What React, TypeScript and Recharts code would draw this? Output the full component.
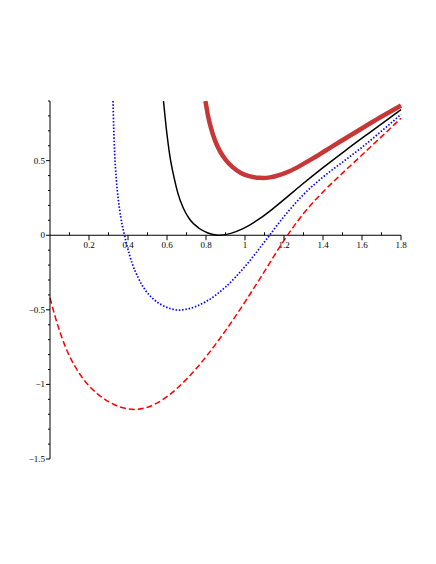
import { LineChart, Line, XAxis, YAxis, ReferenceLine } from 'recharts';

// curve samples
const blackX = [0.582, 0.597, 0.615, 0.636, 0.656, 0.684, 0.718, 0.764, 0.81, 0.862, 0.923, 0.99, 1.067, 1.144, 1.221, 1.297, 1.4, 1.513, 1.641, 1.8];
const blackY = [0.9, 0.709, 0.529, 0.388, 0.281, 0.181, 0.104, 0.047, 0.015, 0.0, 0.011, 0.044, 0.104, 0.179, 0.262, 0.345, 0.453, 0.566, 0.69, 0.842];

const blueX = [0.323, 0.327, 0.332, 0.34, 0.35, 0.364, 0.379, 0.397, 0.421, 0.451, 0.487, 0.528, 0.574, 0.621, 0.66, 0.7, 0.8, 0.9, 1.0, 1.1, 1.2, 1.3, 1.4, 1.5, 1.6, 1.7, 1.8];
const blueY = [0.9, 0.71, 0.542, 0.375, 0.241, 0.114, 0.017, -0.08, -0.187, -0.281, -0.365, -0.425, -0.468, -0.493, -0.502, -0.496, -0.4445, -0.347, -0.2095, -0.0445, 0.1255, 0.273, 0.39, 0.49, 0.59, 0.698, 0.81];

const redX = [0, 0.025, 0.05, 0.075, 0.1, 0.15, 0.2, 0.25, 0.3, 0.35, 0.4, 0.43, 0.5, 0.6, 0.7, 0.8, 0.9, 1.0, 1.1, 1.2, 1.3, 1.4, 1.5, 1.6, 1.7, 1.8];
const redY = [-0.42, -0.54, -0.645, -0.735, -0.81, -0.925, -1.01, -1.07, -1.115, -1.147, -1.164, -1.168, -1.153, -1.082, -0.9645, -0.8145, -0.6395, -0.447, -0.242, -0.0345, 0.1455, 0.2905, 0.4165, 0.5385, 0.661, 0.7845];

const thickX = [0.797, 0.81, 0.826, 0.846, 0.872, 0.903, 0.938, 0.979, 1.026, 1.077, 1.128, 1.179, 1.231, 1.282, 1.344, 1.41, 1.497, 1.59, 1.692, 1.8];
const thickY = [0.9, 0.803, 0.716, 0.636, 0.562, 0.502, 0.455, 0.418, 0.395, 0.385, 0.388, 0.405, 0.431, 0.465, 0.512, 0.565, 0.635, 0.709, 0.789, 0.87];

const xTicks = [0.1, 0.2, 0.3, 0.4, 0.5, 0.6, 0.7, 0.8, 0.9, 1.0, 1.1, 1.2, 1.3, 1.4, 1.5, 1.6, 1.7, 1.8];
const xLabels = ['0.2', '0.4', '0.6', '0.8', '1', '1.2', '1.4', '1.6', '1.8'];
const yTicks = [-1.5, -1.4, -1.3, -1.2, -1.1, -1.0, -0.9, -0.8, -0.7, -0.6, -0.5, -0.4, -0.3, -0.2, -0.1, 0, 0.1, 0.2, 0.3, 0.4, 0.5, 0.6, 0.7, 0.8, 0.9];
const yLabels = ['−1.5', '−1', '−0.5', '0', '0.5'];

const Y_MIN = -1.5;
const Y_MAX = 0.9;

const W = 436;
const H = 564;
const M = { top: 101, right: 35, bottom: 75, left: 0 };
const X_AXIS_H = 30;
const PLOT_H = H - M.top - M.bottom - X_AXIS_H;

const zip = (xs: number[], ys: number[]) => xs.map((x, i) => ({ x, y: ys[i] }));

const blackData = zip(blackX, blackY);
const blueData = zip(blueX, blueY);
const redData = zip(redX, redY);
const thickData = zip(thickX, thickY);

// smooth cubic Hermite through the points (x increasing), tangents from neighbouring secants
function smoothCurve(context: any) {
  let pts: number[][] = [];
  return {
    areaStart() {},
    areaEnd() {},
    lineStart() {
      pts = [];
    },
    point(x: number, y: number) {
      pts.push([+x, +y]);
    },
    lineEnd() {
      const n = pts.length;
      if (!n) return;
      context.moveTo(pts[0][0], pts[0][1]);
      if (n === 1) return;
      const h: number[] = [];
      const d: number[] = [];
      for (let i = 0; i < n - 1; i++) {
        h.push(pts[i + 1][0] - pts[i][0]);
        d.push((pts[i + 1][1] - pts[i][1]) / h[i]);
      }
      const m: number[] = [];
      for (let i = 0; i < n; i++) {
        if (i === 0) m.push(d[0]);
        else if (i === n - 1) m.push(d[n - 2]);
        else m.push((d[i] * h[i - 1] + d[i - 1] * h[i]) / (h[i - 1] + h[i]));
      }
      for (let i = 0; i < n - 1; i++) {
        const [x0, y0] = pts[i];
        const [x1, y1] = pts[i + 1];
        const t = h[i] / 3;
        context.bezierCurveTo(x0 + t, y0 + m[i] * t, x1 - t, y1 - m[i + 1] * t, x1, y1);
      }
    },
  };
}

const font = { fontFamily: '"Liberation Serif", serif', fontSize: 9, fill: '#000' };

function fmt(v: number) {
  const s = String(Math.round(v * 10) / 10);
  return s.startsWith('-') ? '−' + s.slice(1) : s;
}

function XTick(props: any) {
  const { x, y, payload } = props;
  // axis drawn through y = 0 instead of at the bottom
  const zeroY = y - (PLOT_H * (0 - Y_MIN)) / (Y_MAX - Y_MIN);
  const label = fmt(payload.value);
  const major = xLabels.includes(label);
  return (
    <g>
      {major ? (
        <line x1={x} x2={x} y1={zeroY} y2={zeroY + 5} stroke="#000" />
      ) : (
        <line x1={x} x2={x} y1={zeroY - 3} y2={zeroY} stroke="#000" />
      )}
      {major && (
        <text x={x} y={zeroY + 13} textAnchor="middle" {...font}>
          {label}
        </text>
      )}
    </g>
  );
}

function YTick(props: any) {
  const { x, y, payload } = props;
  const label = fmt(payload.value);
  const major = yLabels.includes(label);
  return (
    <g>
      <line x1={x - (major ? 4 : 2)} x2={x} y1={y} y2={y} stroke="#000" />
      {major && (
        <text x={x - 5} y={y + 3} textAnchor="end" {...font}>
          {label}
        </text>
      )}
    </g>
  );
}

export default function App() {
  return (
    <div style={{ width: W, height: H, background: '#fff' }}>
      <style>{'body{margin:0}'}</style>
      <LineChart width={W} height={H} margin={M}>
        <XAxis
          type="number"
          dataKey="x"
          domain={[0, 1.8]}
          ticks={xTicks}
          interval={0}
          height={X_AXIS_H}
          axisLine={false}
          tickLine={false}
          tickSize={0}
          tickMargin={0}
          tick={<XTick />}
        />
        <YAxis
          type="number"
          dataKey="y"
          domain={[Y_MIN, Y_MAX]}
          ticks={yTicks}
          interval={0}
          width={50}
          allowDataOverflow
          axisLine={{ stroke: '#000' }}
          tickLine={false}
          tickSize={0}
          tickMargin={0}
          tick={<YTick />}
        />
        <ReferenceLine y={0} stroke="#000" strokeWidth={1} />
        <Line data={thickData} dataKey="y" type={smoothCurve as any} stroke="#c83737" strokeWidth={4.5} dot={false} isAnimationActive={false} />
        <Line data={blackData} dataKey="y" type={smoothCurve as any} stroke="#000" strokeWidth={1.5} dot={false} isAnimationActive={false} />
        <Line data={blueData} dataKey="y" type={smoothCurve as any} stroke="#0000ff" strokeWidth={1.7} strokeDasharray="1.5 1.8" dot={false} isAnimationActive={false} />
        <Line data={redData} dataKey="y" type={smoothCurve as any} stroke="#ff0000" strokeWidth={1.5} strokeDasharray="6 3" dot={false} isAnimationActive={false} />
      </LineChart>
    </div>
  );
}
